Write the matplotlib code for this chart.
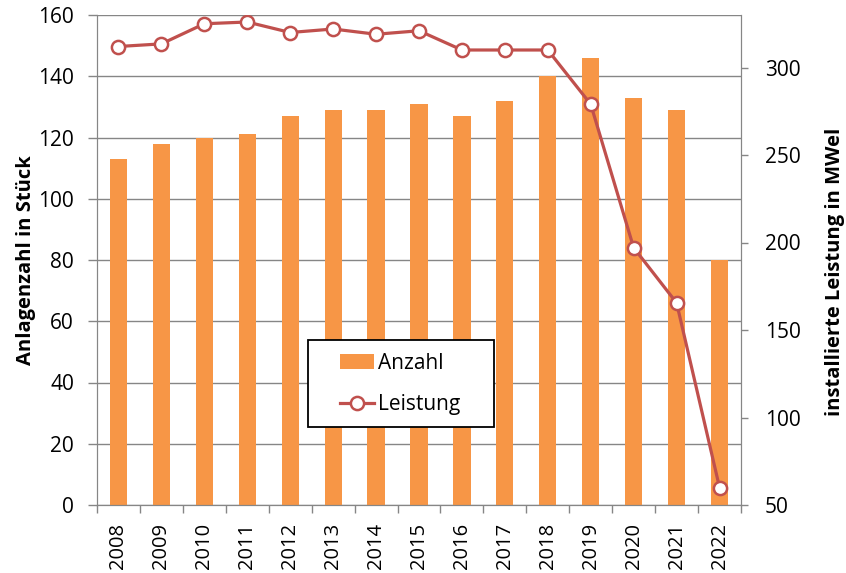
import matplotlib
matplotlib.use("Agg")
import matplotlib.pyplot as plt
from matplotlib.patches import Rectangle
import numpy as np

years = [str(y) for y in range(2008, 2023)]
anzahl = [113, 118, 120, 121, 127, 129, 129, 131, 127, 132, 140, 146, 133, 129, 80]
leistung = [312, 313.5, 325, 326, 320, 322, 319, 321, 310, 310, 310, 279, 197, 165.5, 60]

BAR = "#F79646"
LINE = "#C0504D"
GRID = "#868686"

plt.rcParams["font.family"] = ["Open Sans", "DejaVu Sans"]

fig = plt.figure(figsize=(8.46, 5.73), dpi=100)
ax = fig.add_axes([97 / 846, 68 / 573, 644 / 846, 490 / 573])
ax2 = ax.twinx()

x = np.arange(len(years))
bars = ax.bar(x, anzahl, width=0.4, color=BAR, label="Anzahl", zorder=2)
line, = ax2.plot(x, leistung, color=LINE, linewidth=2.3, marker="o", markersize=9.5,
                 markerfacecolor="white", markeredgecolor=LINE, markeredgewidth=1.8,
                 label="Leistung", zorder=3)

ax.set_xlim(-0.5, len(years) - 0.5)
ax.set_ylim(0, 160)
ax.set_yticks(range(0, 161, 20))
ax2.set_ylim(50, 330)
ax2.set_yticks(range(50, 301, 50))

# year labels sit between the category boundary ticks
ax.set_xticks(np.arange(-0.5, len(years), 1))
ax.set_xticklabels([])
ax.set_xticks(x, minor=True)
ax.set_xticklabels(years, minor=True, rotation=90, fontsize=14.5)
ax.tick_params(axis="x", which="minor", length=0, pad=13)
ax.tick_params(axis="x", which="major", length=6, width=1, color=GRID)
ax.tick_params(axis="y", labelsize=15, length=6.5, width=1, color=GRID, pad=10)
ax2.tick_params(axis="y", labelsize=15, length=5, width=1, color=GRID, pad=12)

ax.grid(True, axis="y", color=GRID, linewidth=1, zorder=0)
ax.set_axisbelow(True)
for a in (ax, ax2):
    for s in a.spines.values():
        s.set_color(GRID)
    a.spines["top"].set_visible(False)

ax.set_ylabel("Anlagenzahl in Stück", fontsize=14.5, fontweight="bold")
ax.yaxis.set_label_coords(-0.094, 0.5)
ax2.set_ylabel("installierte Leistung in MWel", fontsize=14.5, fontweight="bold")
ax2.yaxis.set_label_coords(1.131, 0.475)

ax.set_zorder(ax2.get_zorder() - 1)
ax2.patch.set_visible(False)

# legend frame drawn separately so the handles can sit well inside the box
ax2.add_patch(Rectangle((0.3276, 0.159), 0.2888, 0.1776, transform=ax2.transAxes,
                        facecolor="white", edgecolor="black", linewidth=1.3, zorder=4))
leg = ax2.legend([bars, line], ["Anzahl", "Leistung"], loc="center left",
                 bbox_to_anchor=(0.377, 0.247), frameon=False, fontsize=15,
                 handlelength=1.65, handletextpad=0.2, labelspacing=0.95, borderpad=0,
                 borderaxespad=0)
leg.set_zorder(5)

fig.savefig("out.png", dpi=100)
